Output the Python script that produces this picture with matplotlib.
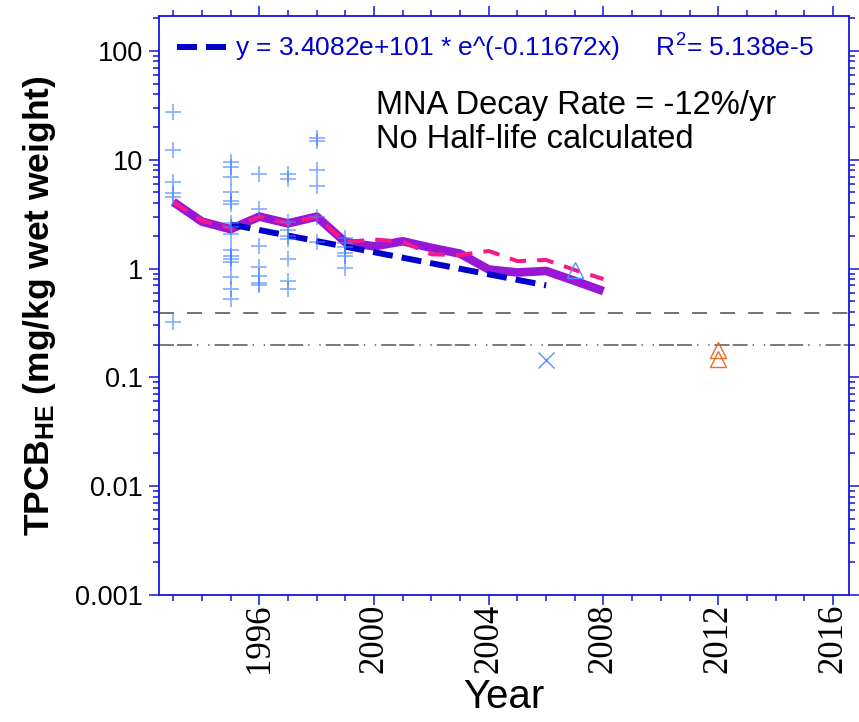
import matplotlib
matplotlib.use("Agg")
import matplotlib.pyplot as plt
from matplotlib.ticker import MultipleLocator, FixedLocator, NullFormatter

plt.rcParams["font.family"] = ["Liberation Sans", "DejaVu Sans"]
plt.rcParams["mathtext.fontset"] = "custom"
plt.rcParams["mathtext.rm"] = "Liberation Sans"
plt.rcParams["mathtext.bf"] = "Liberation Sans:bold"
plt.rcParams["mathtext.default"] = "regular"
plt.rcParams["lines.scale_dashes"] = False

# individual fish samples (mg/kg wet weight)
sample_years = (
    [1993] * 6
    + [1995] * 16
    + [1996] * 7
    + [1997] * 9
    + [1998] * 6
    + [1999] * 6
)
sample_values = [
    27.5, 12.2, 6.2, 4.95, 4.5, 0.32,
    9.5, 8.5, 6.9, 5.0, 4.2, 3.95, 2.6, 2.4, 2.07, 1.47, 1.3, 1.22, 1.15, 0.83, 0.65, 0.53,
    7.4, 3.55, 1.6, 1.03, 0.86, 0.73, 0.70,
    7.4, 6.6, 2.7, 2.25, 2.0, 1.85, 1.23, 0.77, 0.65,
    15.7, 14.9, 8.0, 5.7, 3.0, 1.75,
    1.9, 1.7, 1.58, 1.39, 1.3, 1.02,
]

# single other samples
x_year, x_value = [2006], [0.143]
tri_year, tri_value = [2007], [0.97]
orange_years, orange_values = [2012, 2012], [0.18, 0.146]

# annual means / medians
mean_years = list(range(1993, 2009))
mean_values = [4.1, 2.7, 2.3, 3.0, 2.6, 3.0, 1.75, 1.6, 1.78, 1.55, 1.37, 0.98, 0.92, 0.95, 0.77, 0.62]
median_years = list(range(1993, 2009))
median_values = [4.1, 2.75, 2.35, 3.0, 2.6, 3.0, 1.75, 1.85, 1.76, 1.35, 1.33, 1.45, 1.17, 1.2, 0.97, 0.8]

# exponential fit endpoints (straight on log axis)
fit_years = [1995, 2006]
fit_values = [2.54, 0.70]

ref_dashed = 0.39
ref_dashdot = 0.20

axis_blue = "#1515dd"

fig = plt.figure(figsize=(8.59, 7.22), dpi=100)
ax = fig.add_axes([0.185, 0.176, 0.803, 0.802])

ax.axhline(ref_dashed, color="#666666", lw=1.3, linestyle=(0, (10.8, 9.4)), zorder=1)
ax.axhline(ref_dashdot, color="#555555", lw=1.1,
           linestyle=(0, (10.8, 2.2, 10.8, 3.6, 1.0, 7.0, 1.0, 3.6)), zorder=1)

ax.plot(mean_years, mean_values, color="#9a16d6", lw=6.2, solid_capstyle="butt", zorder=2)
ax.plot(median_years, median_values, color="#f5198a", lw=2.9,
        linestyle=(0, (12, 8)), zorder=3)
fit_line, = ax.plot(fit_years, fit_values, color="#0000cc", lw=4.3,
                    linestyle=(0, (14.4, 6.5)), zorder=4)

ax.plot(sample_years, sample_values, linestyle="none", marker="+", ms=12, mew=1.3,
        color="#3f7fff", alpha=0.6, zorder=5)
ax.plot(x_year, x_value, linestyle="none", marker="x", ms=12, mew=1.0,
        color="#5a8cff", zorder=5)
ax.plot(tri_year, tri_value, linestyle="none", marker="^", ms=11, mew=1.0,
        mfc="none", mec="#5a8cff", zorder=5)
ax.plot(orange_years, orange_values, linestyle="none", marker="^", ms=11, mew=1.0,
        mfc="none", mec="#f26a22", zorder=5)

ax.set_yscale("log")
ax.set_ylim(0.001, 210)
ax.set_xlim(1992.5, 2016.55)
ax.xaxis.set_major_locator(MultipleLocator(4))
ax.xaxis.set_minor_locator(MultipleLocator(1))
ax.yaxis.set_major_locator(FixedLocator([0.001, 0.01, 0.1, 1, 10, 100]))
ax.set_yticklabels(["0.001", "0.01", "0.1", "1", "10", "100"])
ax.yaxis.set_minor_formatter(NullFormatter())

for s in ax.spines.values():
    s.set_color(axis_blue)
    s.set_linewidth(1.3)
ax.tick_params(which="both", direction="out", colors=axis_blue, labelcolor="black",
               top=True, right=True, width=1.1)
ax.tick_params(which="major", length=7.5)
ax.tick_params(which="minor", length=4.3)
ax.tick_params(axis="y", labelsize=19.5, pad=4)
ax.tick_params(axis="x", labelsize=25, pad=-1)
for lab in ax.get_xticklabels():
    lab.set_rotation(90)
    lab.set_family("Liberation Serif")

ax.set_xlabel("Year", fontsize=29, labelpad=3)
ax.set_ylabel(r"TPCB$_{\mathbf{HE}}$ (mg/kg wet weight)", fontsize=25.5,
              fontweight="bold", labelpad=12)

ax.legend([fit_line], ["y = 3.4082e+101 * e^(-0.11672x)     R$^2$= 5.138e-5"],
          loc="center left", bbox_to_anchor=(0.026, 0.945), frameon=False,
          borderpad=0, borderaxespad=0, handlelength=2.0, handletextpad=0.2,
          fontsize=19, labelcolor="#0000cc")

ax.text(0.315, 0.846, "MNA Decay Rate = -12%/yr", transform=ax.transAxes,
        fontsize=23.5, va="center", ha="left")
ax.text(0.315, 0.787, "No Half-life calculated", transform=ax.transAxes,
        fontsize=23.5, va="center", ha="left")

fig.savefig("out.png", dpi=100)
